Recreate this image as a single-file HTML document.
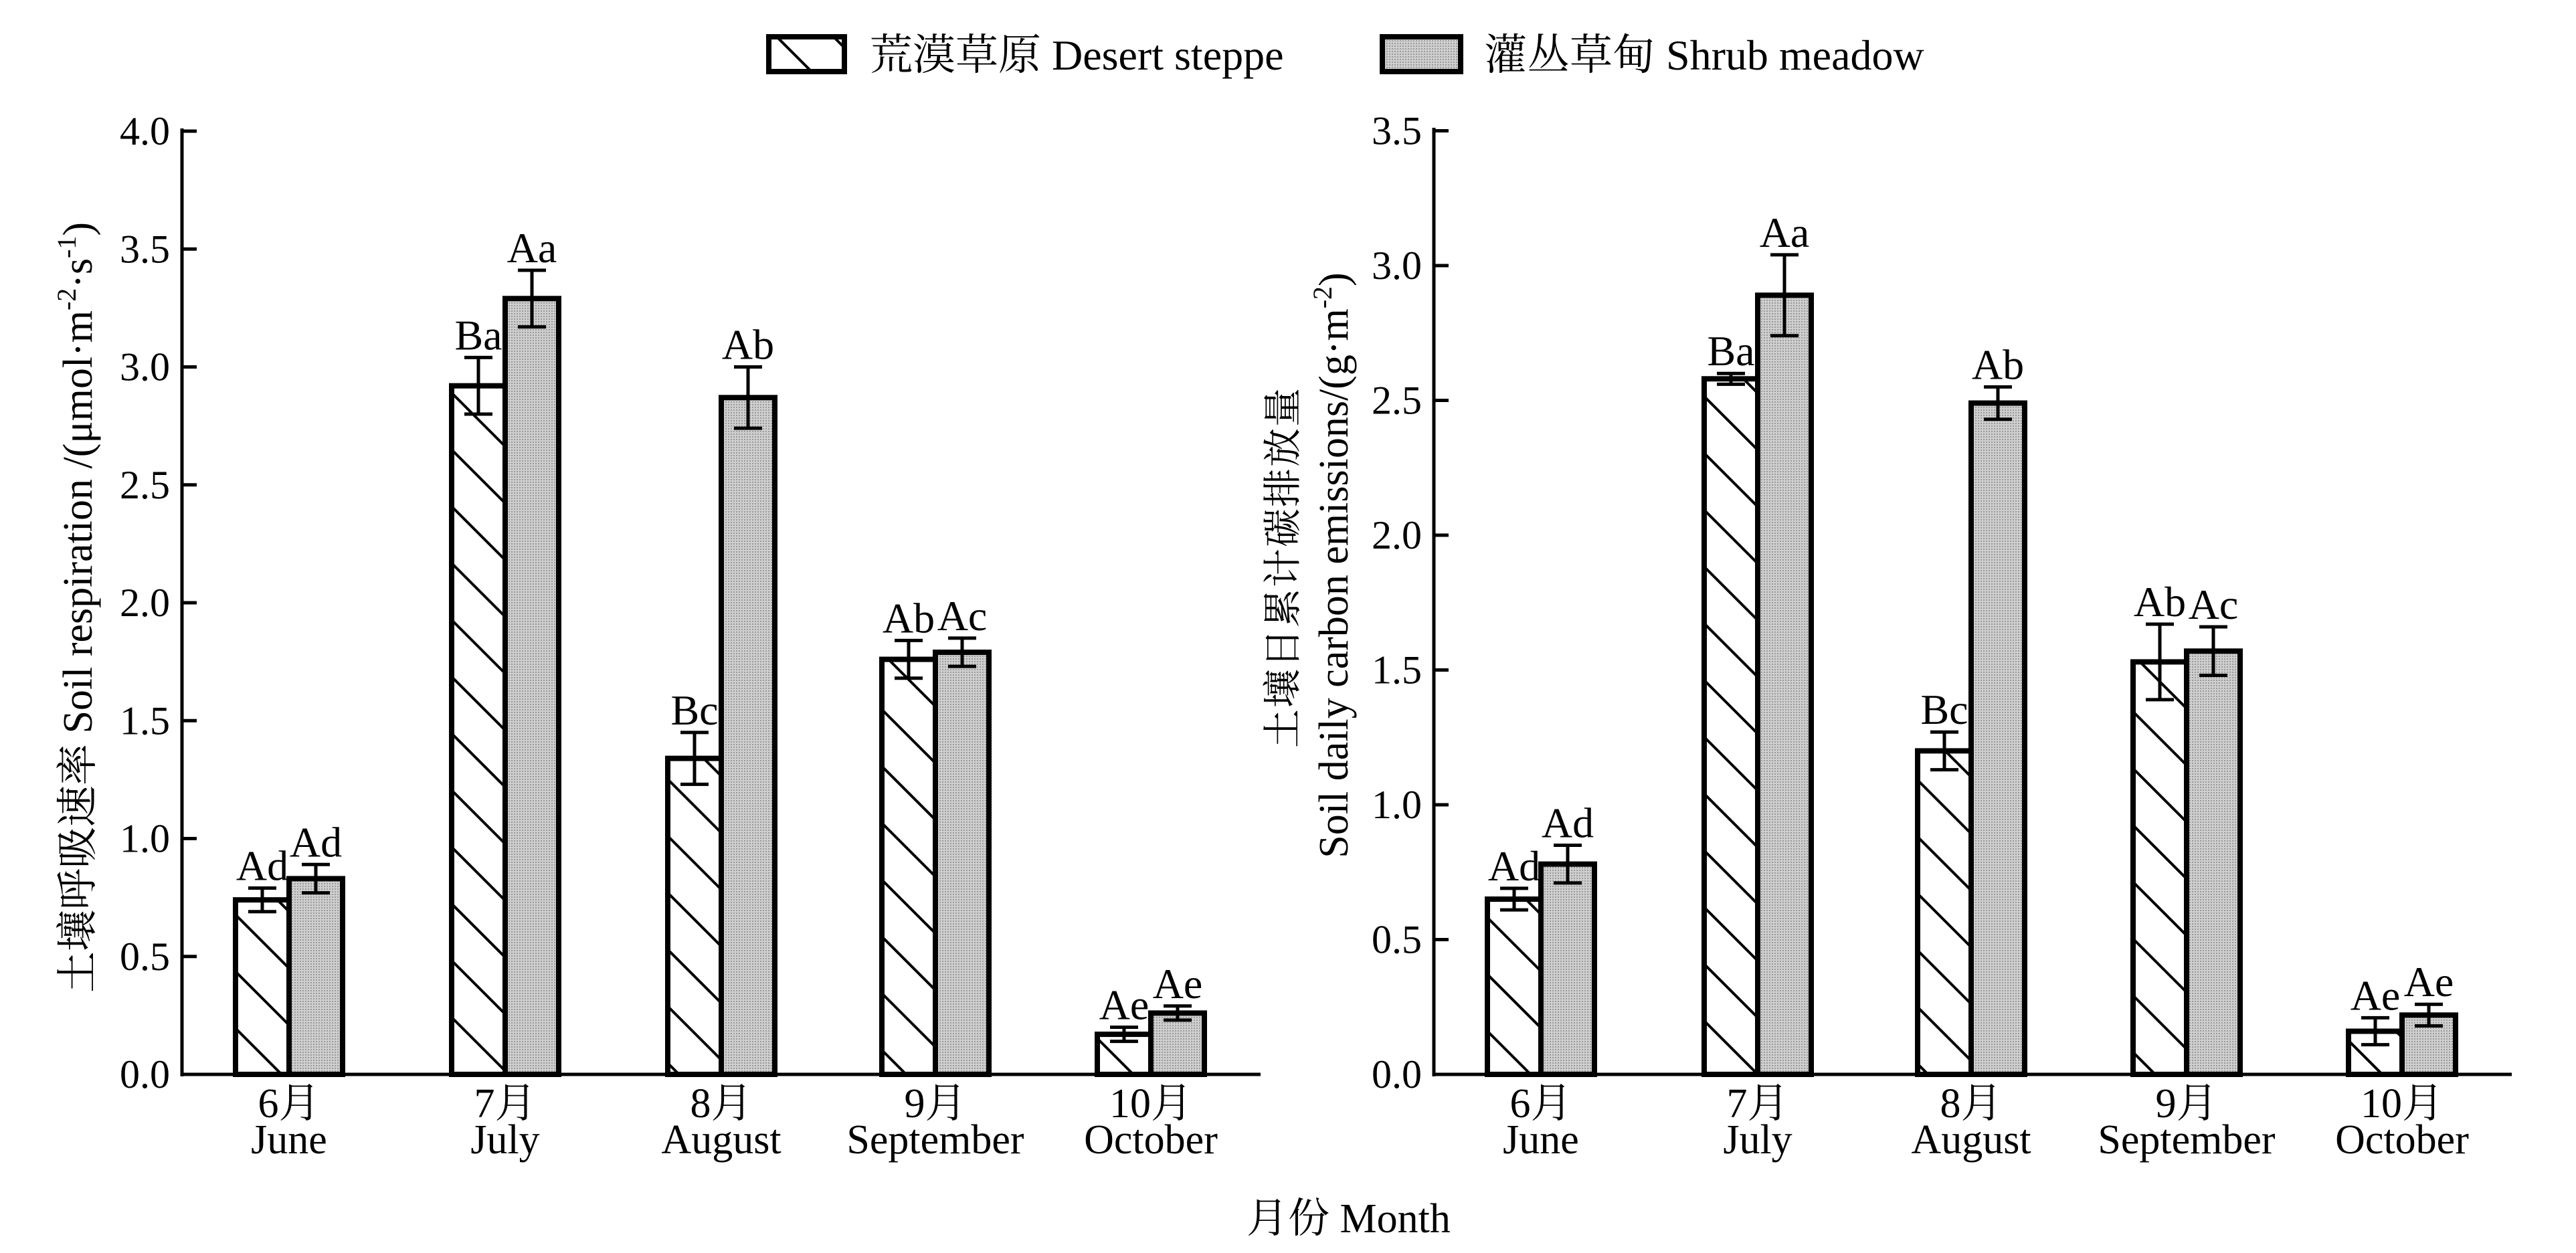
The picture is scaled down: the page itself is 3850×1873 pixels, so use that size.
<!DOCTYPE html>
<html><head><meta charset="utf-8">
<style>
html,body{margin:0;padding:0;background:#fff;}
svg{display:block;}
text{font-family:"Liberation Serif","Noto Serif CJK SC","Noto Sans CJK SC",serif;fill:#000;}
</style></head>
<body>
<svg id="s" width="3850" height="1873" viewBox="0 0 3850 1873" xmlns="http://www.w3.org/2000/svg">
<defs>
<pattern id="hatch" patternUnits="userSpaceOnUse" width="60" height="60" patternTransform="rotate(-45)">
<rect width="60" height="60" fill="#fff"/>
<line x1="0" y1="0" x2="0" y2="60" stroke="#000" stroke-width="8"/>
</pattern>
<pattern id="dots" patternUnits="userSpaceOnUse" width="4" height="4">
<rect width="4" height="4" fill="#cfcfcf"/>
<rect width="2" height="2" fill="#9a9a9a"/>
</pattern>
</defs>
<g id="g"></g>
</svg>
<script>
var g=document.getElementById('g'),h='';
var Z=1606;
function chart(ax,xend,top,unit,ticks,centers,d,s,de,se,ld,ls){
  h+='<line x1="'+ax+'" y1="'+(top-4)+'" x2="'+ax+'" y2="'+(Z+3)+'" stroke="#000" stroke-width="5"/>';
  h+='<line x1="'+(ax-2)+'" y1="'+Z+'" x2="'+xend+'" y2="'+Z+'" stroke="#000" stroke-width="5"/>';
  ticks.forEach(function(t){var y=Z-t*unit;
    h+='<line x1="'+ax+'" y1="'+y+'" x2="'+(ax+22)+'" y2="'+y+'" stroke="#000" stroke-width="5"/>';
    h+='<text x="'+(ax-18)+'" y="'+(y+20)+'" font-size="60" text-anchor="end">'+t.toFixed(1)+'</text>';});
  var w=80;
  centers.forEach(function(c,i){
    [[d[i],de[i],ld[i],c-w,'url(#hatch)'],[s[i],se[i],ls[i],c,'url(#dots)']].forEach(function(b){
      var y=Z-b[0]*unit;
      h+='<rect x="'+b[3]+'" y="'+y+'" width="'+w+'" height="'+(Z-y)+'" fill="'+b[4]+'" stroke="#000" stroke-width="8"/>';
      var m=b[3]+w/2,y1=Z-(b[0]+b[1])*unit,y2=Z-(b[0]-b[1])*unit;
      h+='<line x1="'+m+'" y1="'+y1+'" x2="'+m+'" y2="'+y2+'" stroke="#000" stroke-width="5"/>';
      h+='<line x1="'+(m-21)+'" y1="'+y1+'" x2="'+(m+21)+'" y2="'+y1+'" stroke="#000" stroke-width="5"/>';
      h+='<line x1="'+(m-21)+'" y1="'+y2+'" x2="'+(m+21)+'" y2="'+y2+'" stroke="#000" stroke-width="5"/>';
      h+='<text x="'+m+'" y="'+(y1-12)+'" font-size="64" text-anchor="middle">'+b[2]+'</text>';
    });
  });
  var mo=[['6月','June'],['7月','July'],['8月','August'],['9月','September'],['10月','October']];
  centers.forEach(function(c,i){
    h+='<text x="'+c+'" y="'+(Z+64)+'" font-size="62" text-anchor="middle">'+mo[i][0]+'</text>';
    h+='<text x="'+c+'" y="'+(Z+118)+'" font-size="62" text-anchor="middle">'+mo[i][1]+'</text>';
  });
}
chart(272,1884,196,352.5,[0,0.5,1,1.5,2,2.5,3,3.5,4],[432,755,1078,1398,1720],
 [0.74,2.92,1.34,1.76,0.17],[0.83,3.29,2.87,1.79,0.26],
 [0.05,0.12,0.11,0.08,0.03],[0.06,0.12,0.13,0.06,0.03],
 ['Ad','Ba','Bc','Ab','Ae'],['Ad','Aa','Ab','Ac','Ae']);
chart(2143,3754,195,403,[0,0.5,1,1.5,2,2.5,3,3.5],[2303,2627,2946,3268,3590],
 [0.65,2.58,1.20,1.53,0.16],[0.78,2.89,2.49,1.57,0.22],
 [0.04,0.02,0.07,0.14,0.05],[0.07,0.15,0.06,0.09,0.04],
 ['Ad','Ba','Bc','Ab','Ae'],['Ad','Aa','Ab','Ac','Ae']);
h+='<text transform="translate(137,908) rotate(-90)" font-size="62" text-anchor="middle">土壤呼吸速率  Soil respiration /(μmol·m<tspan dy="-24" font-size="40">-2</tspan><tspan dy="24">·s</tspan><tspan dy="-24" font-size="40">-1</tspan><tspan dy="24">)</tspan></text>';
h+='<text transform="translate(1937,848) rotate(-90)" font-size="58" text-anchor="middle" letter-spacing="2">土壤日累计碳排放量</text>';
h+='<text transform="translate(2014,845) rotate(-90)" font-size="62" text-anchor="middle">Soil daily carbon emissions/(g·m<tspan dy="-24" font-size="40">-2</tspan><tspan dy="24">)</tspan></text>';
h+='<rect x="1149" y="55" width="113" height="52" fill="url(#hatch)" stroke="#000" stroke-width="8"/>';
h+='<text x="1300" y="104" font-size="64">荒漠草原  Desert steppe</text>';
h+='<rect x="2066" y="55" width="117" height="52" fill="url(#dots)" stroke="#000" stroke-width="8"/>';
h+='<text x="2218" y="104" font-size="64">灌丛草甸  Shrub meadow</text>';
h+='<text x="1863" y="1842" font-size="62">月份 Month</text>';
g.innerHTML=h;
</script>
</body></html>
